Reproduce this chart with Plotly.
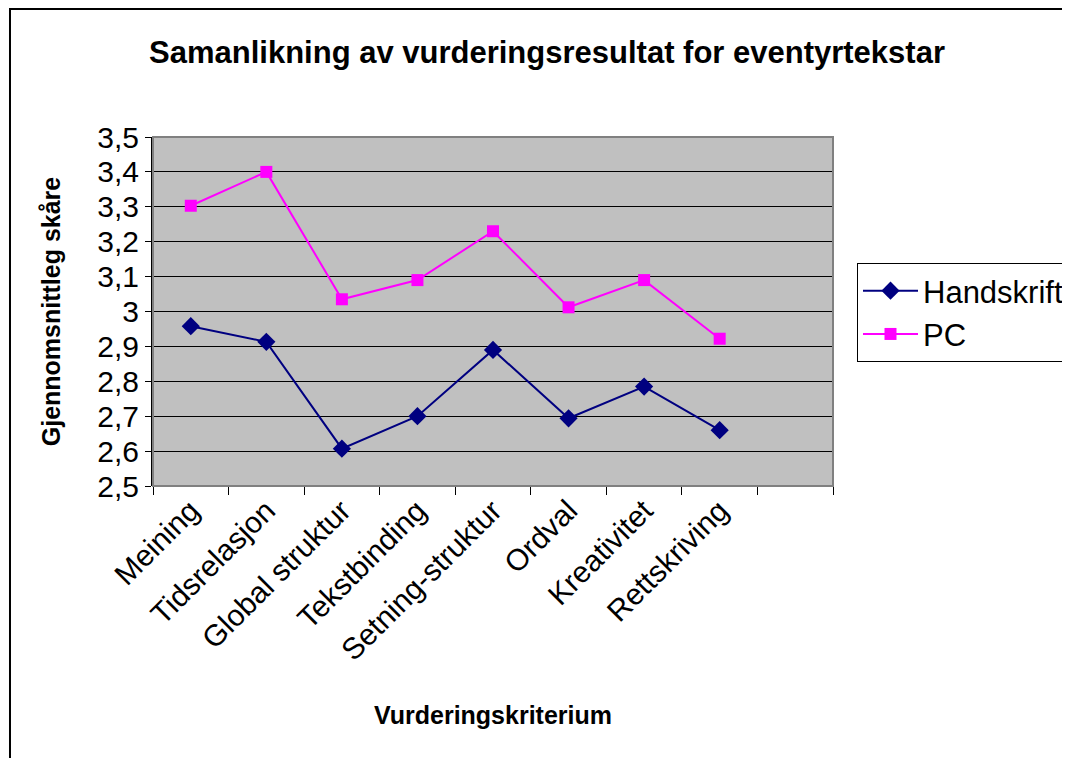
import plotly.graph_objects as go

# Vurderingskriterium (9. plass er tom i originalen)
kriterium = [
    "Meining",
    "Tidsrelasjon",
    "Global struktur",
    "Tekstbinding",
    "Setning-struktur",
    "Ordval",
    "Kreativitet",
    "Rettskriving",
]
tom_plass = [" "]

handskrift = [2.958, 2.913, 2.607, 2.700, 2.890, 2.694, 2.785, 2.660]
pc = [3.303, 3.400, 3.035, 3.090, 3.230, 3.012, 3.090, 2.922]

y_tickvals = [2.5, 2.6, 2.7, 2.8, 2.9, 3.0, 3.1, 3.2, 3.3, 3.4, 3.5]
y_ticktext = ["2,5", "2,6", "2,7", "2,8", "2,9", "3", "3,1", "3,2", "3,3", "3,4", "3,5"]

FONT = "Liberation Sans, Arial, sans-serif"
W, H = 1062, 750  # sida har 8 px marg rundt figuren

fig = go.Figure()
fig.add_trace(
    go.Scatter(
        x=kriterium,
        y=handskrift,
        name="Handskrift",
        mode="lines+markers",
        line={"color": "#000080", "width": 2},
        marker={"symbol": "diamond", "size": 14, "color": "#000080"},
    )
)
fig.add_trace(
    go.Scatter(
        x=kriterium,
        y=pc,
        name="PC",
        mode="lines+markers",
        line={"color": "#FF00FF", "width": 2},
        marker={"symbol": "square", "size": 12, "color": "#FF00FF"},
    )
)

# ramme rundt plottområdet og rundt heile figuren
fig.add_shape(
    type="rect", xref="paper", yref="paper", x0=0, x1=1, y0=0, y1=1,
    line={"color": "#808080", "width": 2}, layer="above",
)
fig.add_shape(
    type="rect", xref="paper", yref="paper", x0=-0.2103, x1=1.3456, y0=-0.85, y1=1.3668,
    line={"color": "#000000", "width": 2},
)

fig.update_layout(
    width=W,
    height=H,
    paper_bgcolor="white",
    plot_bgcolor="#C0C0C0",
    margin={"l": 145, "r": 237, "t": 129, "b": 272},
    font={"family": FONT, "color": "black"},
    title={
        "text": "<b>Samanlikning av vurderingsresultat for eventyrtekstar</b>",
        "font": {"size": 31, "family": FONT},
        "x": 539 / W,
        "xanchor": "center",
        "y": 1 - 44 / H,
        "yanchor": "middle",
    },
    legend={
        "x": 849 / W,
        "xref": "container",
        "y": 1 - 255 / H,
        "yref": "container",
        "xanchor": "left",
        "yanchor": "top",
        "bgcolor": "white",
        "bordercolor": "black",
        "borderwidth": 1,
        "font": {"size": 31, "family": FONT},
        "itemwidth": 55,
        "tracegroupgap": 0,
    },
    showlegend=True,
)
fig.update_xaxes(
    type="category",
    categoryorder="array",
    categoryarray=kriterium + tom_plass,
    range=[-0.5, 8.5],
    tickson="boundaries",
    ticks="outside",
    ticklen=8,
    tickcolor="black",
    tickangle=-45,
    tickfont={"size": 30},
    showgrid=False,
    showline=False,
    title={"text": "<b>Vurderingskriterium</b>", "font": {"size": 25}, "standoff": 40},
)
fig.update_yaxes(
    range=[2.5, 3.5],
    tickvals=y_tickvals,
    ticktext=y_ticktext,
    ticks="outside",
    ticklen=6,
    tickcolor="black",
    tickfont={"size": 30},
    showline=True,
    linecolor="black",
    linewidth=2,
    showgrid=True,
    gridcolor="#000000",
    gridwidth=1,
    zeroline=False,
    title={"text": "<b>Gjennomsnittleg skåre</b>", "font": {"size": 25}, "standoff": 30},
)

fig.write_html("out.html")
